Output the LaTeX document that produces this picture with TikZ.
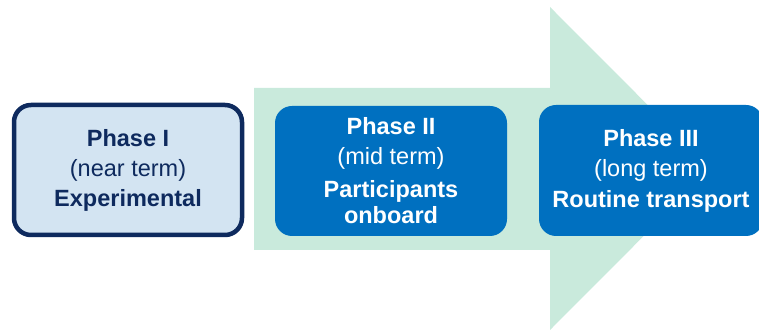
\documentclass[tikz,border=0pt]{standalone}
\usepackage{fontspec}
\setmainfont{Liberation Sans}
\definecolor{arrowgreen}{HTML}{C9EADC}
\definecolor{navy}{HTML}{0E2A5E}
\definecolor{paleblue}{HTML}{D3E4F2}
\definecolor{midblue}{HTML}{0070C0}
\tikzset{
  phasebox/.style={rounded corners=17pt, inner sep=0pt, align=center,
    font=\fontsize{23.5}{27}\selectfont},
  firstbox/.style={phasebox, draw=navy, line width=4.5pt, fill=paleblue, text=navy},
  darkbox/.style={phasebox, fill=midblue, text=white},
}
\begin{document}
\begin{tikzpicture}[x=1pt,y=1pt]
\useasboundingbox (0,0) rectangle (759,331);
\begin{scope}
\clip (0,0) rectangle (759,331);
% big arrow
\fill[arrowgreen] (254,243) -- (550,243) -- (550,324) -- (711,162.5) -- (550,1) -- (550,81) -- (254,81) -- cycle;
% boxes
\node[firstbox, minimum width=228pt, minimum height=130pt] (p1) at (128,161)
  {\textbf{Phase I}\\[3pt](near term)\\[3pt]\textbf{Experimental}};
\node[darkbox, minimum width=232pt, minimum height=130pt] (p2) at (391,160)
  {\textbf{Phase II}\\[3pt](mid term)\\[6pt]\textbf{Participants}\\[-1pt]\textbf{onboard}};
\node[darkbox, minimum width=224pt, minimum height=131pt] (p3) at (651,160.5)
  {\textbf{Phase III}\\[3pt](long term)\\[4pt]\textbf{Routine transport}};
\end{scope}
\end{tikzpicture}
\end{document}
